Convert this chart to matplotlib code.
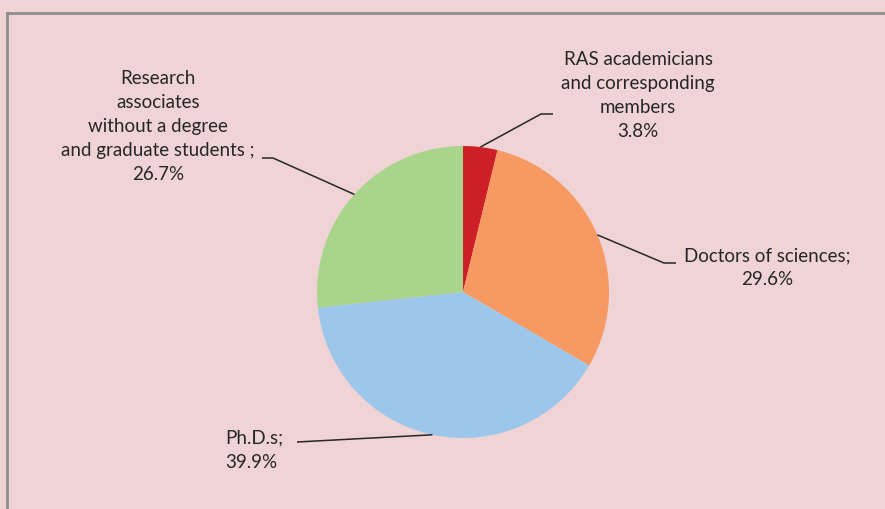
import numpy as np
import matplotlib.pyplot as plt
from matplotlib.lines import Line2D

# data
labels = ["RAS academicians\nand corresponding\nmembers\n3.8%",
          "Doctors of sciences;\n29.6%",
          "Ph.D.s;\n39.9%",
          "Research\nassociates\nwithout a degree\nand graduate students ;\n26.7%"]
shares = [3.8, 29.6, 39.9, 26.7]
colors = ["#CC1F26", "#F79962", "#9DC7EA", "#A9D48B"]

W, H = 885, 509
bg = "#F0D4D5"
plt.rcParams['font.family'] = ['Lato', 'DejaVu Sans']

fig = plt.figure(figsize=(W / 100, H / 100), dpi=100)
fig.patch.set_facecolor(bg)
ax = fig.add_axes([0, 0, 1, 1])

cx, cy, r = 463, H - 292, 146
wedges, _ = ax.pie(shares, colors=colors, startangle=90, counterclock=False,
                   center=(cx, cy), radius=r, frame=True)
ax.set_xlim(0, W)
ax.set_ylim(0, H)
ax.set_aspect('equal')
ax.axis('off')

# label layout: elbow point, end of horizontal tick, text position, alignment
layout = [
    ((541, 114), (553, 114), (638, 95.5), 'center'),
    ((664, 263), (676, 263), (767, 267.5), 'center'),
    ((297, 442), (297, 442), (225, 450), 'left'),
    ((273, 158), (262, 158), (158, 126.5), 'center'),
]

for w, lab, (elb, end, tpos, ha) in zip(wedges, labels, layout):
    ang = np.deg2rad((w.theta1 + w.theta2) / 2)
    ax0 = cx + r * np.cos(ang)
    ay0 = cy + r * np.sin(ang)
    ax.plot([ax0, elb[0], end[0]], [ay0, H - elb[1], H - end[1]],
            color="#262626", lw=1.1, solid_capstyle='butt')
    ax.text(tpos[0], H - tpos[1], lab, ha=ha, va='center', multialignment=ha,
            fontsize=13.5, color="#262626", linespacing=1.5)

# frame lines at top and left
fig.add_artist(Line2D([7 / W, 1], [1 - 13 / H, 1 - 13 / H], color="#8E8E8E", lw=2))
fig.add_artist(Line2D([7 / W, 7 / W], [0, 1 - 13 / H], color="#8E8E8E", lw=2))

fig.savefig("out.png", dpi=100, facecolor=bg)
